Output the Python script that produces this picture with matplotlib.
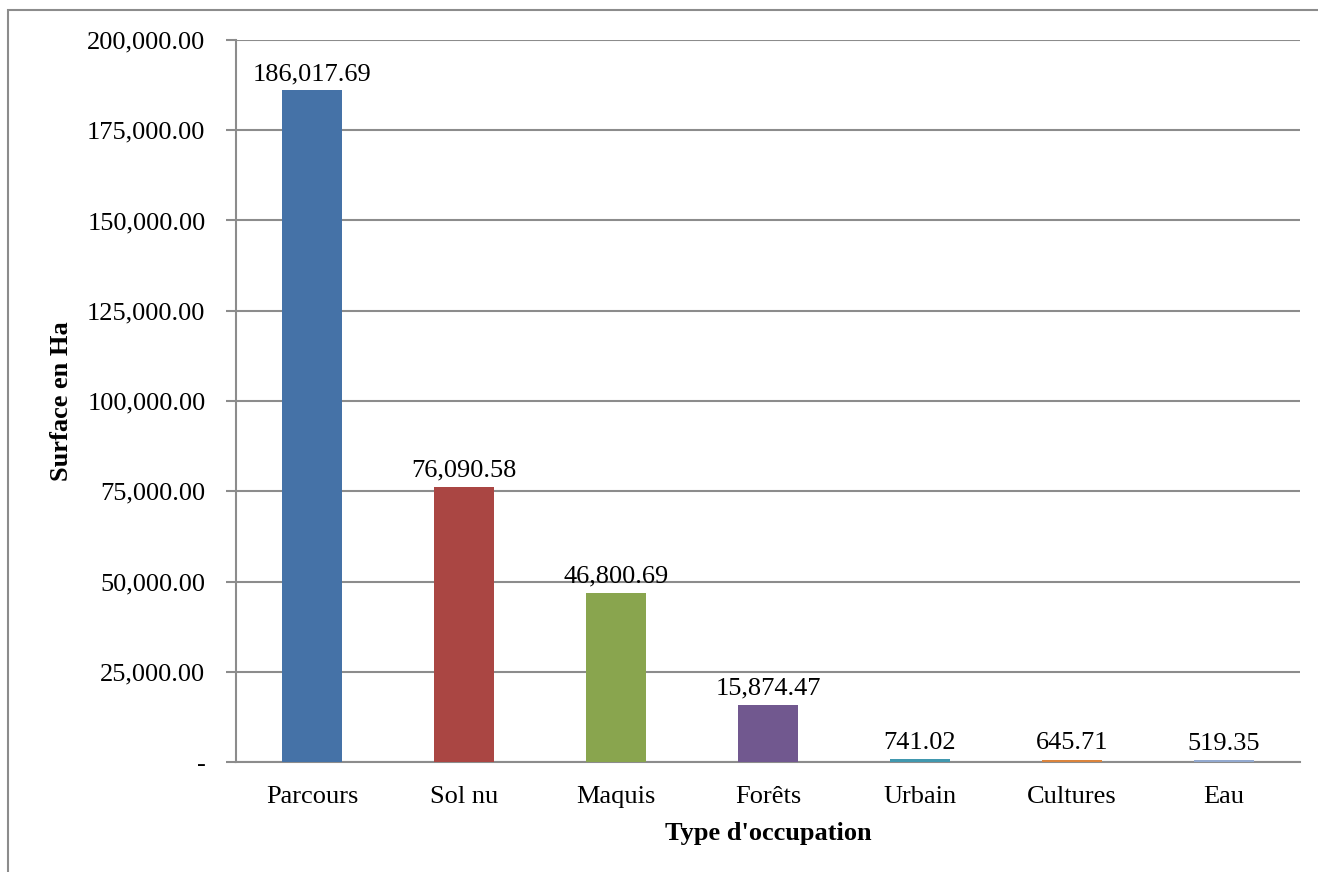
import matplotlib.pyplot as plt
from matplotlib.patches import Rectangle
from matplotlib.ticker import FuncFormatter

categories = ['Parcours', 'Sol nu', 'Maquis', 'Forêts', 'Urbain', 'Cultures', 'Eau']
surface = [186017.69, 76090.58, 46800.69, 15874.47, 741.02, 645.71, 519.35]
colors = ['#4572A7', '#AA4643', '#89A54E', '#71588F', '#4198AF', '#DB843D', '#93A9CF']

plt.rcParams['font.family'] = ['Liberation Serif', 'DejaVu Serif']

fig = plt.figure(figsize=(13.18, 8.72), dpi=100)
# chart border (Excel chart area)
fig.patches.append(Rectangle((8/1318, -0.05), 1.2, 1 - 10/872 + 0.05,
                             transform=fig.transFigure, fill=False,
                             edgecolor='#8c8c8c', linewidth=1.5))

ax = fig.add_axes([236/1318, 1 - 762/872, (1300-236)/1318, (762-40)/872])
x = range(len(categories))
ax.bar(x, surface, width=0.4, color=colors, zorder=3)

for i, v in enumerate(surface):
    ax.text(i, v + 1500, f'{v:,.2f}', ha='center', va='bottom', fontsize=19)

ax.set_xlim(-0.5, len(categories) - 0.5)
ax.set_ylim(0, 200000)
ax.set_yticks(range(0, 200001, 25000))
ax.yaxis.set_major_formatter(FuncFormatter(lambda v, p: '-' if v == 0 else f'{v:,.2f}'))
ax.grid(axis='y', color='#8c8c8c', linewidth=1.5, zorder=0)
ax.set_xticks(list(x))
ax.set_xticklabels(categories)
ax.tick_params(axis='x', length=0, labelsize=19, pad=17)
ax.tick_params(axis='y', length=7, width=1.5, color='#8c8c8c', labelsize=19, pad=15)

for s in ['top', 'right']:
    ax.spines[s].set_visible(False)
for s in ['left', 'bottom']:
    ax.spines[s].set_color('#8c8c8c')
    ax.spines[s].set_linewidth(1.5)

ax.set_xlabel('Type d\'occupation', fontsize=19, fontweight='bold', labelpad=10)
ax.set_ylabel('Surface en Ha', fontsize=19, fontweight='bold', labelpad=10)

fig.savefig('out.png', dpi=100)
